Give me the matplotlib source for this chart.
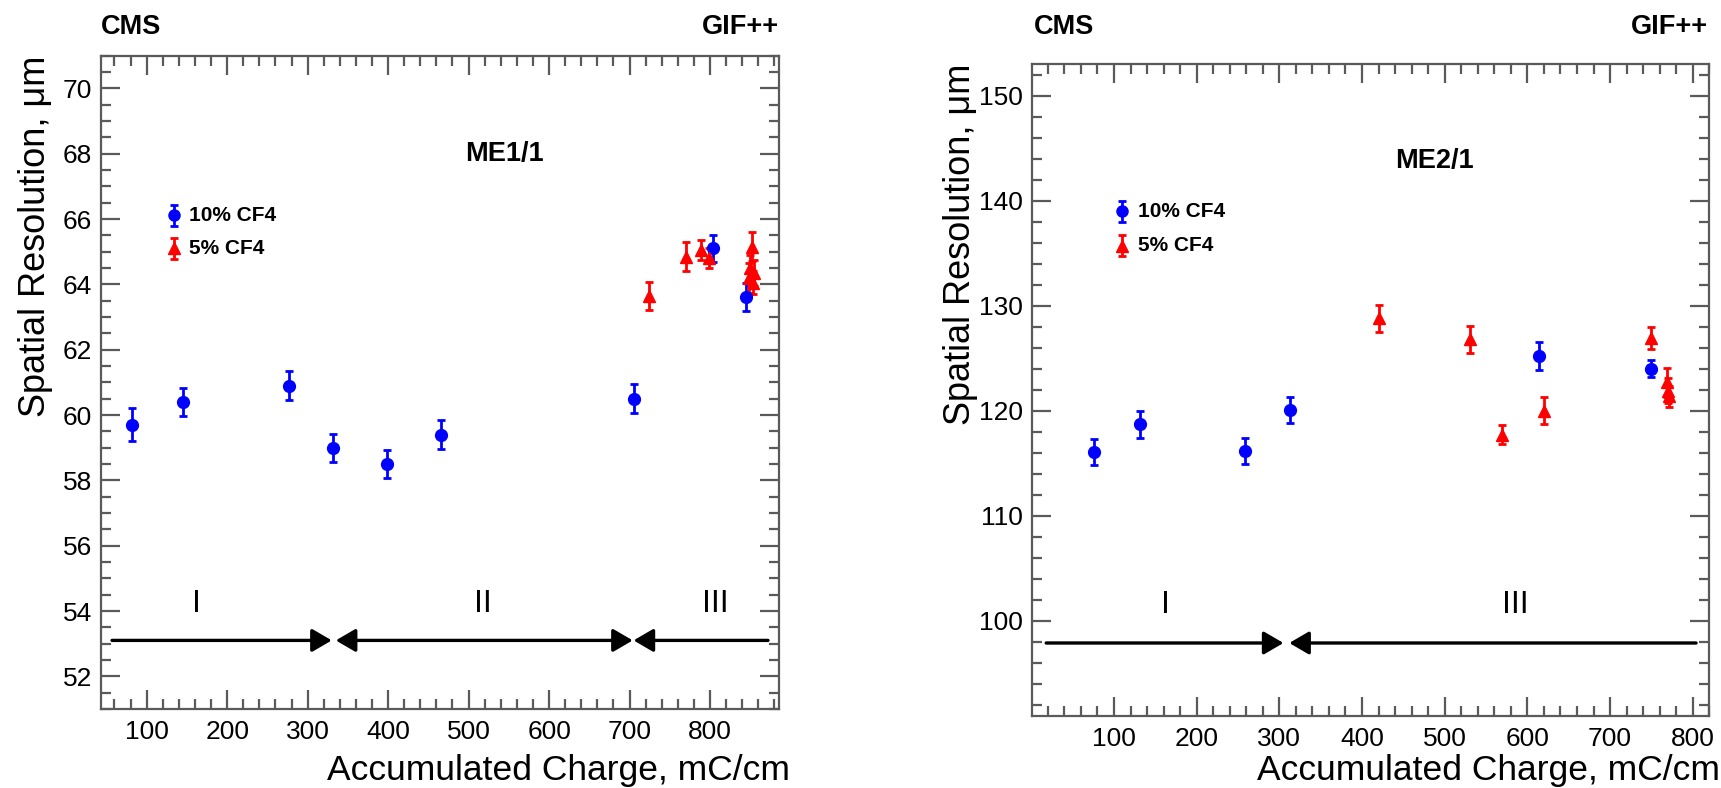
import matplotlib
matplotlib.use("Agg")
import matplotlib.pyplot as plt
from matplotlib.ticker import MultipleLocator

plt.rcParams['font.family'] = ['Liberation Sans', 'DejaVu Sans']

# ME1/1 chamber, resolution vs accumulated charge
me11_blue_q = [82, 145, 277, 331, 399, 466, 705, 804, 845]
me11_blue_res = [59.7, 60.4, 60.9, 59.0, 58.5, 59.4, 60.5, 65.1, 63.6]
me11_blue_err = [0.5, 0.44, 0.44, 0.43, 0.43, 0.44, 0.45, 0.41, 0.43]

me11_red_q = [724, 770, 789, 799, 848, 850, 852, 853, 855]
me11_red_res = [63.65, 64.85, 65.05, 64.8, 64.2, 64.5, 65.15, 64.05, 64.35]
me11_red_err = [0.43, 0.45, 0.3, 0.3, 0.45, 0.4, 0.45, 0.35, 0.4]

# ME2/1 chamber
me21_blue_q = [76, 131, 259, 313, 614, 750]
me21_blue_res = [116.1, 118.7, 116.2, 120.1, 125.2, 124.0]
me21_blue_err = [1.25, 1.25, 1.25, 1.25, 1.35, 0.8]

me21_red_q = [420, 530, 569, 620, 750, 769, 770, 771]
me21_red_res = [128.8, 126.8, 117.7, 120.0, 126.9, 122.7, 121.9, 121.4]
me21_red_err = [1.3, 1.3, 0.9, 1.3, 1.05, 1.4, 1.2, 1.0]

# irradiation periods (start, end, arrow style)
me11_periods = [(57, 330, '-|>'), (335, 704, '<|-|>'), (705, 872, '<|-')]
me11_period_names = ['I', 'II', 'III']
me11_period_x = [162, 518, 806]

me21_periods = [(18, 305, '-|>'), (312, 804, '<|-')]
me21_period_names = ['I', 'III']
me21_period_x = [162, 585]

W, H = 1721, 788
fig = plt.figure(figsize=(W / 100, H / 100), dpi=100)

FRAME = '#5a5a5a'


def fx(px):
    return px / W


def fy(py):
    return 1 - py / H


def style_axes(ax, xlim, ylim, ymaj, ymin):
    ax.set_xlim(*xlim)
    ax.set_ylim(*ylim)
    ax.xaxis.set_major_locator(MultipleLocator(100))
    ax.xaxis.set_minor_locator(MultipleLocator(20))
    ax.yaxis.set_major_locator(MultipleLocator(ymaj))
    ax.yaxis.set_minor_locator(MultipleLocator(ymin))
    ax.tick_params(which='both', direction='in', top=True, right=True,
                   color=FRAME, width=1.6, labelsize=19)
    ax.tick_params(which='major', length=14)
    ax.tick_params(which='minor', length=7)
    ax.tick_params(axis='x', pad=8)
    ax.tick_params(axis='y', pad=6)
    for s in ax.spines.values():
        s.set_color(FRAME)
        s.set_linewidth(1.6)


def draw_points(ax, q, res, err, color, marker, ms):
    ax.errorbar(q, res, yerr=err, fmt=marker, color=color, ms=ms,
                elinewidth=2, capsize=3, capthick=2, mec=color)


def draw_periods(ax, periods, names, xs, y_arrow, y_text):
    for x1, x2, st in periods:
        ax.annotate('', xy=(x2, y_arrow), xytext=(x1, y_arrow),
                    arrowprops=dict(arrowstyle=st + ',head_length=0.6,head_width=0.35',
                                    lw=2.4, color='black', shrinkA=0, shrinkB=0,
                                    mutation_scale=20))
    for n, x in zip(names, xs):
        ax.text(x, y_text, n, fontsize=23, ha='center', va='center')


def draw_key(ax, x, y, err, color, marker, label, tx):
    draw_points(ax, [x], [y], [err], color, marker, 8)
    ax.text(tx, y, label, fontsize=15, fontweight='bold', ha='left', va='center')


# left panel: ME1/1
ax1 = fig.add_axes([fx(100.7), fy(709), fx(779 - 100.7), (709 - 55.7) / H])
style_axes(ax1, (42.9, 885.7), (51.0, 71.0), 2, 0.5)
draw_points(ax1, me11_blue_q, me11_blue_res, me11_blue_err, 'blue', 'o', 8.5)
draw_points(ax1, me11_red_q, me11_red_res, me11_red_err, 'red', '^', 8.5)
draw_periods(ax1, me11_periods, me11_period_names, me11_period_x, 53.1, 54.2)
draw_key(ax1, 134, 66.12, 0.32, 'blue', 'o', '10% CF4', 153)
draw_key(ax1, 134, 65.1, 0.32, 'red', '^', '5% CF4', 153)
ax1.text(545, 68.0, 'ME1/1', fontsize=19.5, fontweight='bold', ha='center', va='center')

# right panel: ME2/1
ax2 = fig.add_axes([fx(1031.7), fy(715.5), fx(1709.3 - 1031.7), (715.5 - 64) / H])
style_axes(ax2, (0.5, 820), (91.0, 153.0), 10, 2)
draw_points(ax2, me21_blue_q, me21_blue_res, me21_blue_err, 'blue', 'o', 8.5)
draw_points(ax2, me21_red_q, me21_red_res, me21_red_err, 'red', '^', 8.5)
draw_periods(ax2, me21_periods, me21_period_names, me21_period_x, 97.9, 101.5)
draw_key(ax2, 110, 139.0, 1.0, 'blue', 'o', '10% CF4', 128.6)
draw_key(ax2, 110, 135.7, 1.0, 'red', '^', '5% CF4', 128.6)
ax2.text(488, 143.8, 'ME2/1', fontsize=19.5, fontweight='bold', ha='center', va='center')

# headers and axis titles
for left, right in [(101, 779), (1034, 1708)]:
    fig.text(fx(left), fy(27), 'CMS', fontsize=19.5, fontweight='bold', ha='left', va='center')
    fig.text(fx(right), fy(27), 'GIF++', fontsize=19.5, fontweight='bold', ha='right', va='center')

fig.text(fx(790), fy(787), 'Accumulated Charge, mC/cm', fontsize=25.5, ha='right', va='bottom')
fig.text(fx(1720), fy(787), 'Accumulated Charge, mC/cm', fontsize=25.5, ha='right', va='bottom')
fig.text(fx(36), fy(55.7), 'Spatial Resolution, \u03bcm', fontsize=26, rotation=90,
         ha='center', va='top')
fig.text(fx(961), fy(64), 'Spatial Resolution, \u03bcm', fontsize=26, rotation=90,
         ha='center', va='top')

fig.savefig('out.png', dpi=100)
